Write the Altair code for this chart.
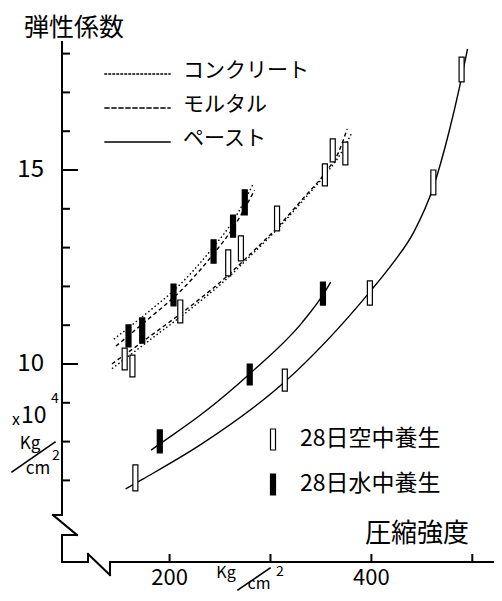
import altair as alt
import pandas as pd

# ---------------- data ----------------
# range markers (low / high of each vertical bar)
cm_water_x = [159.3, 172.9, 203.9, 243.6, 262.9, 274.5]
cm_water_lo = [10.44, 10.54, 11.50, 12.60, 13.27, 13.84]
cm_water_hi = [11.01, 11.19, 12.06, 13.20, 13.84, 14.49]

cm_air_x = [155.5, 163.2, 210.6, 258.1, 270.7, 306.5, 353.9, 361.7, 374.2]
cm_air_lo = [9.85, 9.67, 11.06, 12.27, 12.66, 13.43, 14.59, 15.21, 15.13]
cm_air_hi = [10.41, 10.23, 11.65, 12.94, 13.30, 14.07, 15.16, 15.80, 15.72]

paste_water_x = [190.3, 279.4, 352.0]
paste_water_lo = [7.71, 9.46, 11.52]
paste_water_hi = [8.30, 10.00, 12.11]

paste_air_x = [166.1, 314.2, 398.5, 461.4, 489.4]
paste_air_lo = [6.73, 9.30, 11.52, 14.36, 17.27]
paste_air_hi = [7.40, 9.87, 12.14, 15.00, 17.91]

# curves
conc_water_x = [144.8, 183.5, 204.8, 243.6, 263.0, 282.3]
conc_water_y = [10.64, 11.44, 11.91, 13.02, 13.69, 14.61]
mort_water_x = [146.8, 183.5, 204.8, 243.6, 263.0, 284.2]
mort_water_y = [10.46, 11.26, 11.73, 12.84, 13.51, 14.48]

mort_air_x = [142.9, 183.5, 222.3, 258.1, 280.3, 306.5, 331.7, 354.9, 367.5, 376.0]
mort_air_y = [10.00, 10.77, 11.52, 12.29, 12.84, 13.51, 14.25, 14.95, 15.46, 16.06]
conc_air_x = [142.9, 183.5, 222.3, 258.1, 280.3, 306.5, 331.7, 354.9, 369.0, 381.0]
conc_air_y = [9.88, 10.68, 11.45, 12.23, 12.79, 13.47, 14.20, 14.90, 15.40, 15.98]

paste_air_cx = [156.4, 173.9, 231.9, 314.2, 398.5, 420.7, 442.0, 461.4, 476.9, 488.5, 495.3]
paste_air_cy = [6.78, 7.04, 7.94, 9.54, 11.86, 12.58, 13.40, 14.56, 15.98, 17.27, 18.12]
paste_water_cx = [181.6, 190.3, 231.9, 280.3, 331.7, 352.0, 359.7]
paste_water_cy = [7.78, 7.94, 8.71, 9.77, 11.08, 11.78, 12.11]

y_minor_ticks = [7, 8, 9, 11, 12, 13, 14, 16, 17, 18]
y_major_ticks = [10, 15]
x_ticks = [200, 300, 400, 500]
x_labels = [200, 400]

legend_lines = ["コンクリート", "モルタル", "ペースト"]
legend_marks = ["28日空中養生", "28日水中養生"]

# ---------------- chart ----------------
W, H = 432, 520
XS = alt.Scale(domain=[98.35, 516.55], nice=False, zero=False)
YS = alt.Scale(domain=[4.897, 18.299], nice=False, zero=False)
JP = "Noto Sans CJK JP"
dummy = pd.DataFrame({"a": [0]})


def xenc(f):
    return alt.X(f, type="quantitative", scale=XS, axis=None)


def yenc(f):
    return alt.Y(f, type="quantitative", scale=YS, axis=None)


def curve(xs, ys, dash=None):
    df = pd.DataFrame({"x": xs, "y": ys})
    kw = dict(color="black", strokeWidth=1.4, interpolate="monotone")
    if dash:
        kw["strokeDash"] = dash
    return alt.Chart(df).mark_line(**kw).encode(x=xenc("x"), y=yenc("y"))


def bars(xs, lo, hi, filled):
    df = pd.DataFrame({"x": xs, "lo": lo, "hi": hi})
    return alt.Chart(df).mark_bar(
        width=5, fill="black" if filled else "white", stroke="black", strokeWidth=1.2
    ).encode(x=xenc("x"), y=yenc("lo"), y2="hi")


def seg(x1, y1, x2, y2, w=2, dash=None):
    kw = dict(color="black", strokeWidth=w, strokeCap="square")
    if dash:
        kw["strokeDash"] = dash
    return alt.Chart(dummy).mark_rule(**kw).encode(
        x=alt.value(x1), y=alt.value(y1), x2=alt.value(x2), y2=alt.value(y2)
    )


def label(txt, x, y, size, align="left", baseline="middle", font=JP):
    return alt.Chart(dummy).mark_text(
        text=txt, fontSize=size, align=align, baseline=baseline, font=font, color="black"
    ).encode(x=alt.value(x), y=alt.value(y))


layers = []
# axis with breaks
axis_path = [(0, 0), (0, 473), (-9, 473), (15, 493), (0, 493), (0, 520),
             (26, 520), (26, 512), (48, 533), (48, 520), (432, 520)]
for (a, b), (c, d) in zip(axis_path[:-1], axis_path[1:]):
    layers.append(seg(a, b, c, d, w=2))

# ticks
layers.append(alt.Chart(pd.DataFrame({"v": y_minor_ticks})).mark_rule(color="black", strokeWidth=2)
              .encode(y=yenc("v"), x=alt.value(0), x2=alt.value(8)))
layers.append(alt.Chart(pd.DataFrame({"v": y_major_ticks})).mark_rule(color="black", strokeWidth=2)
              .encode(y=yenc("v"), x=alt.value(0), x2=alt.value(16)))
layers.append(alt.Chart(pd.DataFrame({"v": x_ticks})).mark_rule(color="black", strokeWidth=2)
              .encode(x=xenc("v"), y=alt.value(520), y2=alt.value(512)))
# tick labels
layers.append(alt.Chart(pd.DataFrame({"v": y_major_ticks})).mark_text(
    fontSize=24, align="right", baseline="middle", font=JP, color="black")
    .encode(y=yenc("v"), x=alt.value(-18), text=alt.Text("v:Q")))
layers.append(alt.Chart(pd.DataFrame({"v": x_labels})).mark_text(
    fontSize=22, align="center", baseline="middle", font=JP, color="black")
    .encode(x=xenc("v"), y=alt.value(536), text=alt.Text("v:Q")))

# curves
DOT = [1.5, 2.5]
DASH = [4, 3]
layers += [
    curve(conc_water_x, conc_water_y, DOT),
    curve(mort_water_x, mort_water_y, DASH),
    curve(conc_air_x, conc_air_y, DOT),
    curve(mort_air_x, mort_air_y, DASH),
    curve(paste_air_cx, paste_air_cy),
    curve(paste_water_cx, paste_water_cy),
]
# markers
layers += [
    bars(cm_water_x, cm_water_lo, cm_water_hi, True),
    bars(cm_air_x, cm_air_lo, cm_air_hi, False),
    bars(paste_water_x, paste_water_lo, paste_water_hi, True),
    bars(paste_air_x, paste_air_lo, paste_air_hi, False),
]

# titles
layers.append(label("弾性係数", 12, -14, 25, align="center"))
layers.append(label("圧縮強度", 303, 492, 26))
# y unit
layers.append(label("x", -46, 378, 16, align="center"))
layers.append(label("10", -41, 374, 23))
layers.append(label("4", -11, 357, 14))
layers.append(label("Kg", -32, 402, 17, align="center"))
layers.append(seg(-50, 430, -7, 400, w=1.6))
layers.append(label("2", -6, 414, 14, align="center"))
layers.append(label("cm", -24, 427, 17, align="center"))
# x unit
layers.append(label("Kg", 164, 531, 16, align="center"))
layers.append(seg(176, 548, 208, 526, w=1.6))
layers.append(label("cm", 197, 542, 16, align="center"))
layers.append(label("2", 218, 530, 14, align="center"))

# line legend
leg_y = [32, 66, 100]
leg_dash = [DOT, DASH, None]
for name, yy, dd in zip(legend_lines, leg_y, leg_dash):
    layers.append(seg(43, yy, 108, yy, w=1.4, dash=dd))
    layers.append(label(name, 121, yy - 3, 21))

# marker legend
layers.append(alt.Chart(dummy).mark_rect(fill="white", stroke="black", strokeWidth=1.2)
              .encode(x=alt.value(208.5), x2=alt.value(213.5), y=alt.value(387), y2=alt.value(408)))
layers.append(alt.Chart(dummy).mark_rect(fill="black", stroke="black", strokeWidth=1.2)
              .encode(x=alt.value(208.5), x2=alt.value(213.5), y=alt.value(432), y2=alt.value(453)))
layers.append(label(legend_marks[0], 238, 397, 23))
layers.append(label(legend_marks[1], 238, 442, 23))

chart = alt.layer(*layers).properties(
    width=W, height=H,
    autosize="none",
    padding={"left": 54, "top": 34, "right": 0, "bottom": 31},
    background="white",
).configure_view(stroke=None)

chart.save("out.html", embed_options={"renderer": "svg", "actions": False})
